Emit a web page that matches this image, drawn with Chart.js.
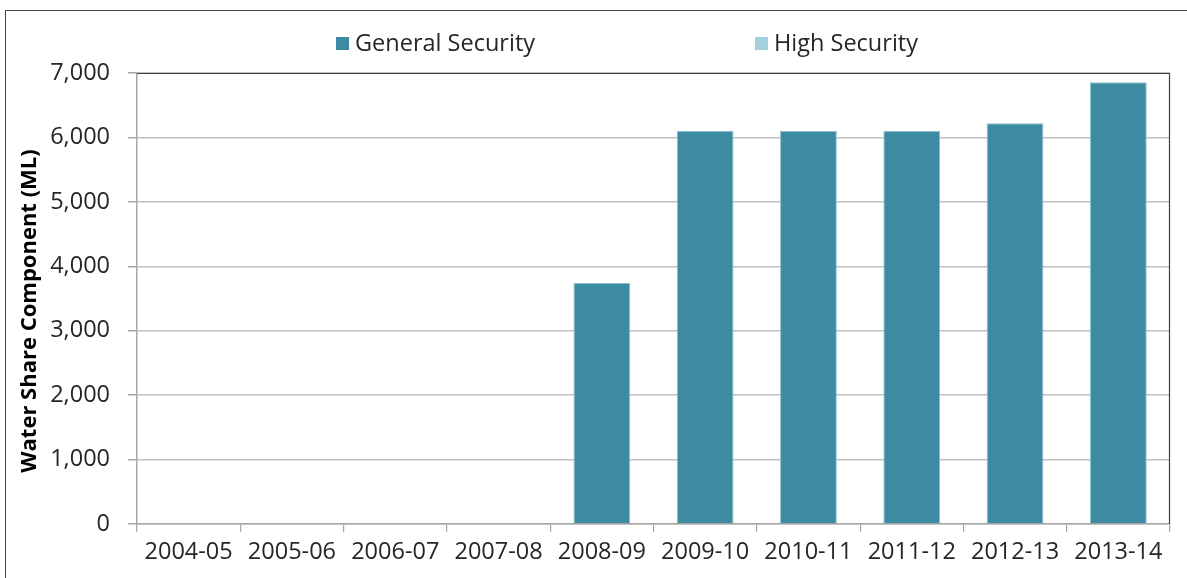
<!DOCTYPE html>
<html>
<head>
<meta charset="utf-8">
<script src="https://cdn.jsdelivr.net/npm/chart.js@4.4.1/dist/chart.umd.min.js"></script>
<style>
  html, body { margin: 0; padding: 0; background: #fff; overflow: hidden; }
  #wrap { position: relative; width: 1187px; height: 578px; }
  #frame { position: absolute; left: 5px; top: 10px; width: 1400px; height: 800px;
           border: 1.5px solid #444; box-sizing: border-box; }
  #chart { position: absolute; left: 0; top: 0; }
</style>
</head>
<body>
<div id="wrap">
  <div id="frame"></div>
  <canvas id="chart" width="1187" height="578"></canvas>
</div>
<script>
var years = ['2004-05', '2005-06', '2006-07', '2007-08', '2008-09',
             '2009-10', '2010-11', '2011-12', '2012-13', '2013-14'];
var generalSecurity = [0, 0, 0, 0, 3740, 6100, 6100, 6100, 6220, 6855];
var highSecurity = [0, 0, 0, 0, 0, 0, 0, 0, 0, 0];
var yTicks = [0, 1000, 2000, 3000, 4000, 5000, 6000, 7000];
var yTitle = 'Water Share Component (ML)';

var FONT = "'Open Sans', 'DejaVu Sans', sans-serif";

// top and right edge of the plot box
var plotBorder = {
    id: 'plotBorder',
    afterDatasetsDraw: function (chart) {
        var a = chart.chartArea, ctx = chart.ctx;
        ctx.save();
        ctx.strokeStyle = '#404040';
        ctx.lineWidth = 1.2;
        ctx.beginPath();
        ctx.moveTo(a.left, a.top + 0.5);
        ctx.lineTo(a.right - 0.5, a.top + 0.5);
        ctx.lineTo(a.right - 0.5, a.bottom);
        ctx.stroke();
        ctx.restore();
    }
};

// legend row above the plot, items spread apart
var spreadLegend = {
    id: 'spreadLegend',
    afterDraw: function (chart) {
        var ctx = chart.ctx;
        var xs = [336, 755];
        ctx.save();
        ctx.font = '23.5px ' + FONT;
        ctx.textBaseline = 'middle';
        chart.data.datasets.forEach(function (ds, i) {
            ctx.fillStyle = ds.backgroundColor;
            ctx.fillRect(xs[i], 37, 13, 13);
            ctx.fillStyle = '#262626';
            ctx.fillText(ds.label, xs[i] + 19, 44);
        });
        ctx.restore();
    }
};

// rotated y axis title, sits a little below the plot's middle
var sideTitle = {
    id: 'sideTitle',
    afterDraw: function (chart) {
        var ctx = chart.ctx;
        ctx.save();
        ctx.translate(30, 311);
        ctx.rotate(-Math.PI / 2);
        ctx.font = 'bold 22px ' + FONT;
        ctx.fillStyle = '#000';
        ctx.textAlign = 'center';
        ctx.textBaseline = 'middle';
        ctx.fillText(yTitle, 0, 0);
        ctx.restore();
    }
};

var ctx = document.getElementById('chart');
var chart = new Chart(ctx, {
    type: 'bar',
    data: {
        labels: years,
        datasets: [
            {
                label: 'General Security',
                data: generalSecurity,
                backgroundColor: '#3d8ba3',
                borderColor: '#8cc2d1',
                borderWidth: 1
            },
            {
                label: 'High Security',
                data: highSecurity,
                backgroundColor: '#a5cfdc',
                borderColor: '#a5cfdc',
                borderWidth: 0
            }
        ]
    },
    options: {
        responsive: false,
        animation: false,
        layout: { padding: { top: 73, right: 17, left: 0, bottom: 0 } },
        plugins: {
            legend: { display: false },
            tooltip: { enabled: false }
        },
        datasets: {
            bar: { barPercentage: 0.55, categoryPercentage: 1.0 }
        },
        scales: {
            x: {
                stacked: true,
                grid: {
                    offset: true,
                    drawOnChartArea: false,
                    drawTicks: true,
                    tickLength: 8,
                    color: '#a6a6a6',
                    lineWidth: 1.2
                },
                border: { color: '#a6a6a6', width: 1.5 },
                ticks: {
                    color: '#262626',
                    font: { family: FONT, size: 23.5 },
                    padding: 6,
                    maxRotation: 0,
                    autoSkip: false
                },
                afterFit: function (scale) { scale.height = 54; }
            },
            y: {
                stacked: true,
                min: 0,
                max: 7000,
                afterBuildTicks: function (scale) {
                    scale.ticks = yTicks.map(function (v) { return { value: v }; });
                },
                grid: {
                    color: '#c0c0c0',
                    lineWidth: 1.5,
                    tickLength: 9,
                    tickColor: '#a6a6a6'
                },
                border: { color: '#a6a6a6', width: 1.5 },
                ticks: {
                    color: '#262626',
                    font: { family: FONT, size: 23.5 },
                    padding: 18,
                    callback: function (v) { return v.toLocaleString('en-US'); }
                },
                afterFit: function (scale) { scale.width = 137; }
            }
        }
    },
    plugins: [plotBorder, spreadLegend, sideTitle]
});
</script>
</body>
</html>
